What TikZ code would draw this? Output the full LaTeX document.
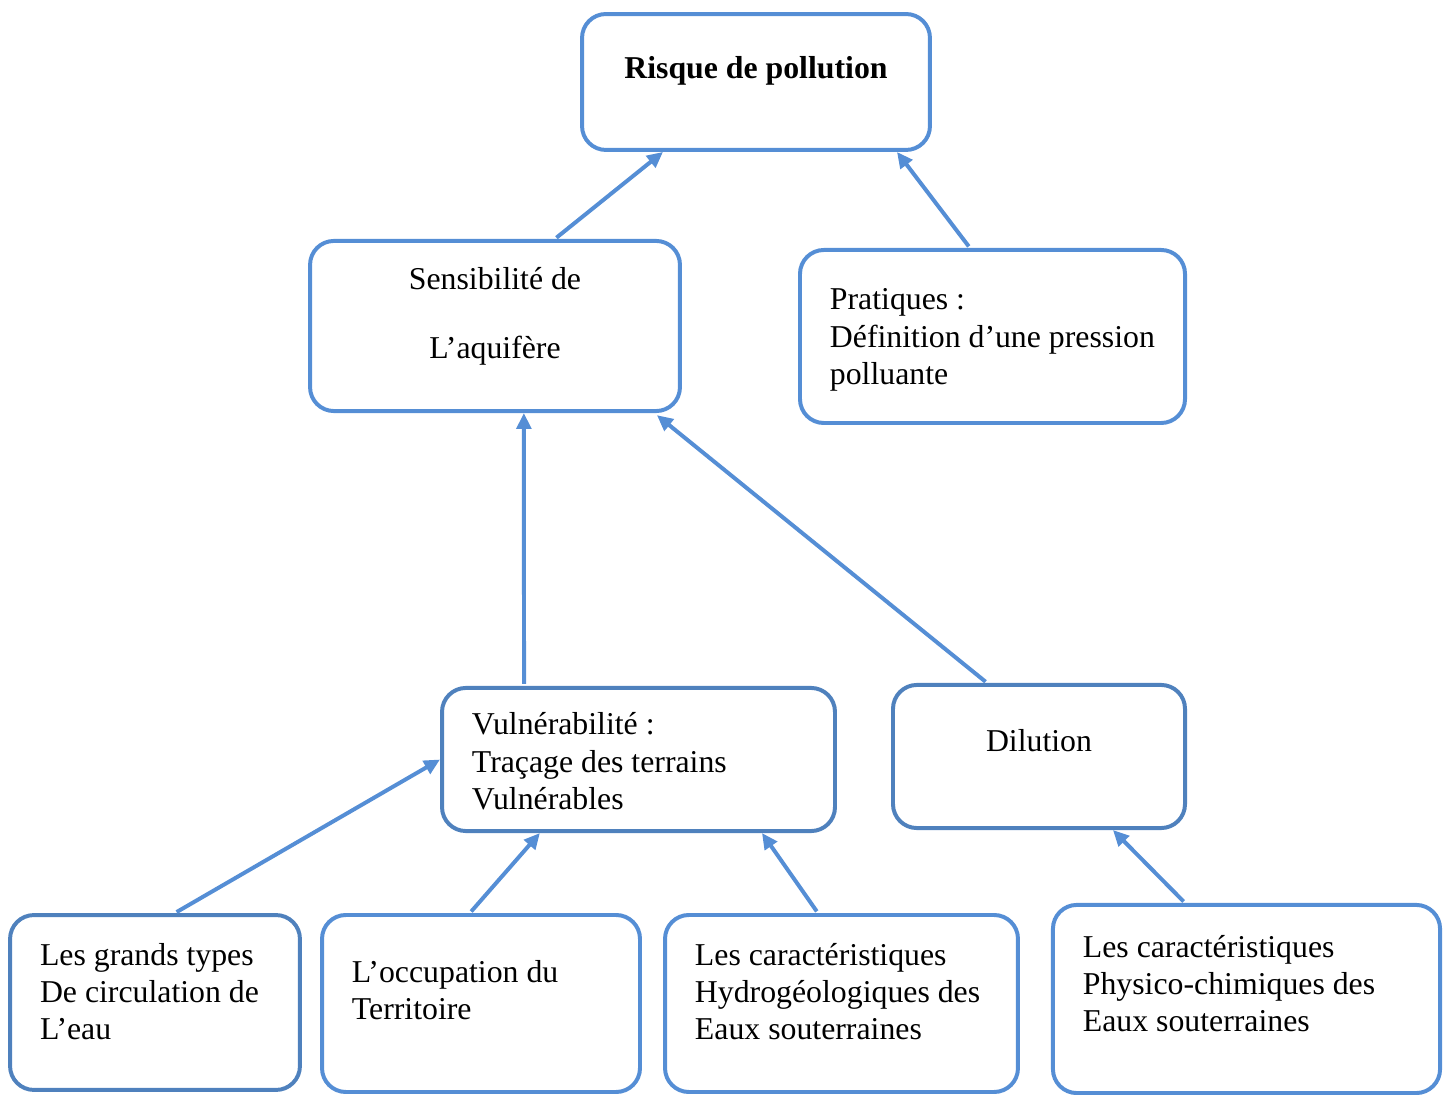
\documentclass[tikz,border=0pt]{standalone}
\usepackage{fontspec}
\setmainfont{Liberation Serif}
\usepackage{xcolor}
\usepackage{tikz}
\usetikzlibrary{arrows.meta, positioning}

\definecolor{lightblue}{HTML}{558ED5}
\definecolor{darkblue}{HTML}{4F81BD}

\begin{document}
\begin{tikzpicture}[
  x=0.3774pt, y=-0.3774pt,
  font=\fontsize{12}{14}\selectfont,
  block/.style={draw=lightblue, rectangle, rounded corners=9pt, line width=1.5pt,
    inner xsep=11.3pt, inner ysep=0pt, align=flush left, execute at begin node=\strut},
  dblock/.style={block, draw=darkblue},
  midblock/.style={align=flush center},
  arr/.style={-{Triangle[length=6pt, width=5.5pt]}, line width=1.5pt, lightblue, shorten <=0.75pt}
]
\useasboundingbox (0,0) rectangle (1450,1095);

\node[block, midblock, text width=108.7pt, minimum height=51.3pt, text depth=12.8pt] (risk) at (756,82)
  {\textbf{Risque de pollution}};
\node[block, midblock, text width=117pt, minimum height=64.2pt, text depth=37pt] (sens) at (495,326)
  {Sensibilité de\\[12pt] L’aquifère};
\node[block, text width=122.7pt, minimum height=65.3pt, text depth=29.8pt] (prat) at (992.5,336.5)
  {Pratiques :\\ \mbox{Définition d’une pression}\\ polluante};

\node[dblock, text width=125.7pt, minimum height=54pt, text depth=28.3pt] (vuln) at (638.5,759.5)
  {Vulnérabilité :\\ Traçage des terrains\\ Vulnérables};
\node[dblock, midblock, text width=87.6pt, minimum height=54pt, text depth=13.2pt] (dil) at (1039,756.5)
  {Dilution};

\node[dblock, text width=86.8pt, minimum height=66pt, text depth=38.1pt] (types) at (155,1002.5)
  {Les grands types\\ \mbox{De circulation de}\\ L’eau};
\node[block, text width=97.4pt, minimum height=66.8pt, text depth=26pt] (occup) at (481,1003.5)
  {L’occupation du\\ Territoire};
\node[block, text width=110.6pt, minimum height=66.8pt, text depth=38.8pt] (hydro) at (841.5,1003.5)
  {Les caractéristiques\\ \mbox{Hydrogéologiques des}\\ Eaux souterraines};
\node[block, text width=123.5pt, minimum height=71pt, text depth=41.5pt] (phys) at (1246.5,999)
  {Les caractéristiques\\ Physico-chimiques des\\ Eaux souterraines};

\draw[arr] ([xshift=22.6pt]sens.north) -- ([xshift=-35.1pt]risk.south);
\draw[arr] ([xshift=-8.5pt]prat.north) -- ([xshift=53.2pt]risk.south);
\draw[arr] ([xshift=-43.2pt]vuln.north) -- ([xshift=10.9pt]sens.south);
\draw[arr] ([xshift=-19.6pt]dil.north) -- ([xshift=61.1pt, yshift=-0.8pt]sens.south);
\draw[arr] ([xshift=7.5pt]types.north) -- (vuln.west);
\draw[arr] ([xshift=-4.2pt]occup.north) -- ([xshift=-37.2pt]vuln.south);
\draw[arr] ([xshift=-8.9pt]hydro.north) -- ([xshift=46.6pt]vuln.south);
\draw[arr] ([xshift=-23.2pt]phys.north) -- ([xshift=27.9pt]dil.south);
\end{tikzpicture}
\end{document}
